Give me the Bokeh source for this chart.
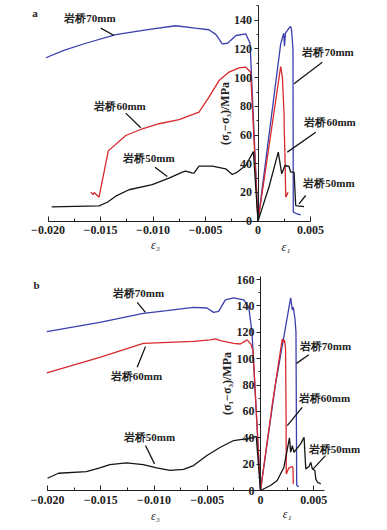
from bokeh.plotting import figure
from bokeh.layouts import column
from bokeh.models import Range1d, SingleIntervalTicker, CustomJSTickFormatter
from bokeh.core.properties import value
from bokeh.embed import file_html
from bokeh.resources import INLINE

# ---------------- data: panel a ----------------
a70_e3_x = [-0.0202, -0.0185, -0.0164, -0.01355, -0.0105, -0.00784, -0.0060, -0.00467, -0.0040, -0.0034, -0.0029, -0.0021, -0.00117, -0.00076, 0.0]
a70_e3_y = [113.9, 119.0, 124.0, 130.0, 133.5, 136.2, 134.5, 133.4, 130.0, 123.6, 124.0, 129.4, 130.6, 124.0, 0.0]
a70_e1_x = [0.0, 0.00216, 0.00245, 0.00252, 0.00262, 0.00300, 0.00311, 0.0032, 0.00333, 0.00336, 0.0036, 0.00407]
a70_e1_y = [0.0, 123.6, 131.0, 122.0, 131.0, 135.0, 135.7, 133.0, 120.0, 6.3, 5.5, 4.4]

a60_e3_x = [-0.01593, -0.0157, -0.0156, -0.01514, -0.01426, -0.0126, -0.01102, -0.00943, -0.00752, -0.00562, -0.00467, -0.00371, -0.00276, -0.00181, -0.00117, -0.0007, 0.0]
a60_e3_y = [20.2, 18.5, 20.0, 16.7, 49.0, 59.7, 64.4, 67.9, 70.7, 76.0, 86.4, 98.0, 103.9, 106.9, 107.3, 104.0, 0.0]
a60_e1_x = [0.0, 0.00216, 0.00232, 0.00248, 0.0025, 0.00257, 0.00264, 0.00276, 0.00286]
a60_e1_y = [0.0, 107.8, 100.4, 74.9, 63.0, 44.6, 16.7, 18.5, 20.2]

a50_e3_x = [-0.01965, -0.01514, -0.01435, -0.01355, -0.01229, -0.01007, -0.00848, -0.0072, -0.0069, -0.0063, -0.0061, -0.00562, -0.00435, -0.00308, -0.00245, -0.00197, -0.00117, -0.00044, 0.0]
a50_e3_y = [10.0, 10.7, 13.2, 17.4, 21.9, 25.4, 30.0, 34.2, 34.9, 33.7, 33.5, 38.3, 38.3, 36.5, 32.5, 34.2, 38.8, 48.5, 0.0]
a50_e1_x = [0.0, 0.00105, 0.00193, 0.00226, 0.00257, 0.00295, 0.00311, 0.00343, 0.00359, 0.00438]
a50_e1_y = [0.0, 24.0, 48.1, 33.0, 38.8, 38.1, 34.2, 34.2, 10.9, 10.2]

# ---------------- data: panel b ----------------
b70_e3_x = [-0.02007, -0.01509, -0.0110, -0.0088, -0.00629, -0.00503, -0.0044, -0.00393, -0.0033, -0.00252, -0.00157, -0.0011, -0.0008, 0.0]
b70_e3_y = [120.5, 127.5, 134.3, 136.4, 138.9, 138.4, 135.1, 135.8, 144.5, 146.0, 144.5, 138.9, 120.0, 0.0]
b70_e1_x = [0.0, 0.0014, 0.00283, 0.00299, 0.00308, 0.00324, 0.00333, 0.0034, 0.00361]
b70_e1_y = [0.0, 80.0, 146.0, 136.9, 138.9, 130.0, 120.0, 3.8, 3.0]

b60_e3_x = [-0.02007, -0.01509, -0.0110, -0.00629, -0.00472, -0.00425, -0.00377, -0.00252, -0.00189, -0.00126, -0.0009, -0.0007, 0.0]
b60_e3_y = [89.2, 101.0, 111.6, 113.1, 114.2, 114.9, 113.6, 111.6, 111.1, 114.2, 111.0, 106.0, 0.0]
b60_e1_x = [0.0, 0.0011, 0.00195, 0.00205, 0.00215, 0.00225, 0.00235, 0.0024, 0.00242, 0.00267, 0.00299, 0.00305, 0.00308]
b60_e1_y = [0.0, 65.0, 110.0, 114.9, 112.5, 114.0, 108.0, 60.0, 12.6, 17.2, 18.2, 17.0, 5.0]

b50_e3_x = [-0.02, -0.01897, -0.01635, -0.01509, -0.01415, -0.01258, -0.01101, -0.00975, -0.00849, -0.00723, -0.00629, -0.00503, -0.00377, -0.00252, -0.00142, -0.0008, -0.0004, 0.0]
b50_e3_y = [9.3, 13.1, 14.4, 17.2, 19.7, 21.0, 19.7, 17.2, 15.2, 16.1, 18.9, 26.5, 32.8, 37.9, 39.2, 40.0, 41.0, 0.0]
b50_e1_x = [0.0, 0.00094, 0.00157, 0.0022, 0.00272, 0.00283, 0.00299, 0.00314, 0.00377, 0.00409, 0.00425, 0.00456, 0.00472, 0.00487, 0.0051, 0.00519, 0.00535, 0.00566]
b50_e1_y = [0.0, 3.8, 7.6, 17.7, 40.0, 29.0, 34.1, 29.0, 35.4, 40.4, 16.4, 18.2, 21.4, 16.4, 15.2, 8.8, 6.3, 5.0]

# ---------------- annotations ----------------
series_names = ["岩桥70mm", "岩桥60mm", "岩桥50mm"]
a_lab_x = [-0.0160, -0.01314, -0.01038, 0.00667, 0.00686, 0.00676]
a_lab_y = [141.3, 80.0, 43.7, 117.6, 68.8, 26.3]
a_lead_x0 = [-0.01498, -0.0126, -0.00981, 0.00612, 0.0055, 0.00454]
a_lead_y0 = [134.5, 75.3, 37.6, 110.8, 62.0, 17.9]
a_lead_x1 = [-0.01371, -0.01117, -0.00864, 0.00343, 0.00279, 0.0039]
a_lead_y1 = [129.4, 65.1, 31.2, 95.8, 48.1, 12.1]

b_lab_x = [-0.01146, -0.01164, -0.01042, 0.0061, 0.00601, 0.00695]
b_lab_y = [150.0, 87.1, 40.2, 109.8, 70.5, 31.8]
b_lead_x0 = [-0.01158, -0.01158, -0.0108, 0.00454, 0.00392, 0.0061]
b_lead_y0 = [142.7, 93.4, 34.1, 103.0, 63.1, 26.5]
b_lead_x1 = [-0.0108, -0.0108, -0.00995, 0.00338, 0.00251, 0.00495]
b_lead_y1 = [135.1, 109.1, 20.2, 96.4, 49.2, 16.4]

# panel letter, eps3 label, eps1 label positions (data units)
a_misc_x = [-0.02124, -0.00976, 0.00267]
a_misc_y = [144.9, -16.9, -18.3]
b_misc_x = [-0.02103, -0.00986, 0.0025]
b_misc_y = [155.5, -19.0, -17.7]

BLUE = "#3b3fae"
RED = "#d8282c"
BLACK = "#151515"
INK = "#222222"
SERIF = "Liberation Serif"

xfmt = CustomJSTickFormatter(code="""
if (Math.abs(tick) < 1e-12) return "0";
const s = Math.abs(tick).toFixed(3);
return (tick < 0 ? "\\u2212" : "") + s;
""")


def panel(letter, xr, yr, xbounds, ybounds, curves, lab_x, lab_y, l0x, l0y, l1x, l1y, misc_x, misc_y):
    p = figure(width=387, height=265, x_range=Range1d(*xr), y_range=Range1d(*yr),
               output_backend="svg", toolbar_location=None,
               min_border_left=24, min_border_right=10, min_border_top=2, min_border_bottom=2)
    p.grid.visible = False
    p.outline_line_color = None

    for xs, ys, c in curves:
        p.line(xs, ys, line_color=c, line_width=1.3)

    xa = p.xaxis[0]
    xa.fixed_location = 0
    xa.bounds = xbounds
    xa.ticker = SingleIntervalTicker(interval=0.005, num_minor_ticks=2)
    xa.formatter = xfmt
    xa.major_tick_in = 5
    xa.major_tick_out = 0
    xa.minor_tick_in = 3
    xa.minor_tick_out = 0
    xa.major_label_standoff = 5
    xa.major_label_text_font = SERIF
    xa.major_label_text_font_size = "12px"
    xa.major_label_text_font_style = "bold"
    xa.major_label_text_color = INK
    xa.axis_line_color = INK
    xa.major_tick_line_color = INK
    xa.minor_tick_line_color = INK

    ya = p.yaxis[0]
    ya.fixed_location = 0
    ya.bounds = ybounds
    ya.ticker = SingleIntervalTicker(interval=20, num_minor_ticks=2)
    ya.major_tick_in = 0
    ya.major_tick_out = 4
    ya.minor_tick_in = 0
    ya.minor_tick_out = 2
    ya.major_label_standoff = 2
    ya.major_label_text_font = SERIF
    ya.major_label_text_font_size = "12px"
    ya.major_label_text_font_style = "bold"
    ya.major_label_text_color = INK
    ya.axis_label = "(σ₁−σ₃)/MPa"
    ya.axis_label_text_font = SERIF
    ya.axis_label_text_font_size = "12px"
    ya.axis_label_text_font_style = "bold"
    ya.axis_label_text_color = INK
    ya.axis_label_standoff = 0
    ya.axis_line_color = INK
    ya.major_tick_line_color = INK
    ya.minor_tick_line_color = INK

    names = series_names + series_names
    p.text(lab_x, lab_y, text=names, text_align="center", text_baseline="middle",
           text_font=value(SERIF), text_font_size="11px", text_font_style="bold", text_color=INK)
    p.segment(l0x, l0y, l1x, l1y, line_color=BLACK, line_width=1.3)

    p.text(misc_x[:1], misc_y[:1], text=[letter], text_align="center", text_baseline="middle",
           text_font=value(SERIF), text_font_size="11px", text_font_style="bold", text_color=INK)
    p.text(misc_x[1:], misc_y[1:], text=["ε₃", "ε₁"], text_align="center", text_baseline="middle",
           text_font=value(SERIF), text_font_size="12px", text_font_style="italic", text_color=INK)
    return p


pa = panel("a", (-0.02224, 0.01138), (-29.5, 152.4), (-0.020, 0.005), (0, 150),
           [(a70_e3_x, a70_e3_y, BLUE), (a70_e1_x, a70_e1_y, BLUE),
            (a60_e3_x, a60_e3_y, RED), (a60_e1_x, a60_e1_y, RED),
            (a50_e3_x, a50_e3_y, BLACK), (a50_e1_x, a50_e1_y, BLACK)],
           a_lab_x, a_lab_y, a_lead_x0, a_lead_y0, a_lead_x1, a_lead_y1, a_misc_x, a_misc_y)

pb = panel("b", (-0.02216, 0.010986), (-28.8, 169.1), (-0.020, 0.006), (0, 162),
           [(b70_e3_x, b70_e3_y, BLUE), (b70_e1_x, b70_e1_y, BLUE),
            (b60_e3_x, b60_e3_y, RED), (b60_e1_x, b60_e1_y, RED),
            (b50_e3_x, b50_e3_y, BLACK), (b50_e1_x, b50_e1_y, BLACK)],
           b_lab_x, b_lab_y, b_lead_x0, b_lead_y0, b_lead_x1, b_lead_y1, b_misc_x, b_misc_y)

layout = column(pa, pb, spacing=0)
open("out.html", "w").write(file_html(layout, INLINE))
